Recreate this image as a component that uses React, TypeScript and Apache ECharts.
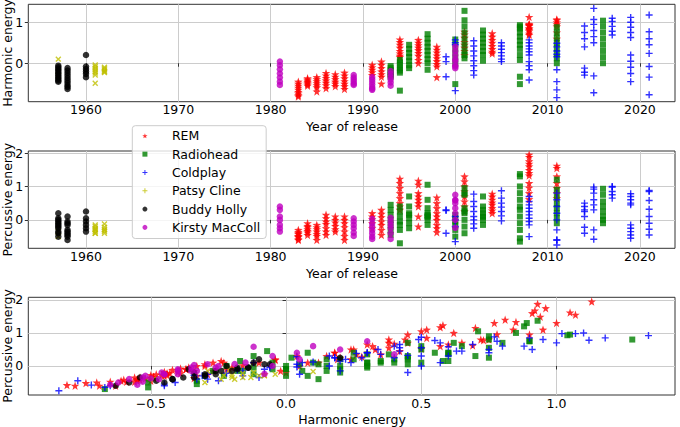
import React, { useEffect, useRef } from "react";
import * as echarts from "echarts";

// [year, harmonic, percussive]
const REM: number[][] = [
  [1983, -0.45, -0.3], [1983, -0.5, -0.36], [1983, -0.55, -0.4], [1983, -0.6, -0.42], [1983, -0.65, -0.48], [1983, -0.7, -0.5], [1983, -0.74, -0.52], [1983, -0.78, -0.6], [1983, -0.81, -0.58],
  [1984, -0.37, -0.1], [1984, -0.4, -0.18], [1984, -0.43, -0.22], [1984, -0.46, -0.28], [1984, -0.49, -0.33], [1984, -0.52, -0.38], [1984, -0.55, -0.45],
  [1985, -0.34, -0.15], [1985, -0.39, -0.22], [1985, -0.44, -0.28], [1985, -0.49, -0.35], [1985, -0.54, -0.42], [1985, -0.59, -0.48], [1985, -0.69, -0.6],
  [1986, -0.24, 0.15], [1986, -0.3, 0.05], [1986, -0.36, -0.05], [1986, -0.42, -0.12], [1986, -0.48, -0.25], [1986, -0.54, -0.35], [1986, -0.61, -0.45],
  [1987, -0.27, 0.1], [1987, -0.33, 0.0], [1987, -0.39, -0.08], [1987, -0.45, -0.18], [1987, -0.5, -0.28], [1987, -0.56, -0.35],
  [1988, -0.23, 0.1], [1988, -0.3, 0.0], [1988, -0.37, -0.1], [1988, -0.44, -0.22], [1988, -0.5, -0.35], [1988, -0.56, -0.48], [1988, -0.63, -0.6],
  [1991, -0.04, 0.2], [1991, -0.1, 0.1], [1991, -0.16, 0.02], [1991, -0.22, -0.1], [1991, -0.29, -0.25],
  [1992, 0.04, 0.3], [1992, -0.04, 0.18], [1992, -0.12, 0.08], [1992, -0.2, -0.05], [1992, -0.27, -0.15], [1992, -0.33, -0.3], [1992, -0.5, -0.45],
  [1994, 0.58, 1.23], [1994, 0.52, 1.1], [1994, 0.45, 0.95], [1994, 0.38, 0.8], [1994, 0.3, 0.65], [1994, 0.24, 0.5], [1994, 0.18, 0.4], [1994, 0.15, 0.3],
  [1996, 0.57, 1.17], [1996, 0.5, 1.05], [1996, 0.44, 0.8], [1996, 0.38, 0.7], [1996, 0.32, 0.6], [1996, 0.25, 0.5], [1996, 0.18, 0.4], [1996, 0.08, 0.1], [1996, 0.0, -0.2],
  [1998, 0.4, 0.67], [1998, 0.33, 0.5], [1998, 0.26, 0.35], [1998, 0.19, 0.2], [1998, 0.12, 0.1], [1998, 0.05, 0.0], [1998, -0.02, -0.15], [1998, -0.08, -0.25], [1998, -0.34, -0.37],
  [2001, 0.77, 1.3], [2001, 0.7, 1.15], [2001, 0.62, 1.0], [2001, 0.52, 0.85], [2001, 0.45, 0.7], [2001, 0.38, 0.55], [2001, 0.3, 0.4], [2001, 0.2, 0.25],
  [2004, 0.73, 0.78], [2004, 0.65, 0.7], [2004, 0.57, 0.6], [2004, 0.5, 0.52], [2004, 0.42, 0.45], [2004, 0.35, 0.35], [2004, 0.28, 0.28], [2004, 0.24, 0.2],
  [2008, 1.13, 1.95], [2008, 0.93, 1.88], [2008, 0.96, 1.75], [2008, 0.92, 1.68], [2008, 0.91, 1.6], [2008, 0.94, 1.49], [2008, 0.81, 1.4], [2008, 0.85, 1.33], [2008, 0.84, 1.1], [2008, 0.78, 0.96], [2008, 0.72, 0.8], [2008, 0.69, 0.62],
  [2011, 1.05, 1.62], [2011, 1.07, 1.55], [2011, 1.0, 1.3], [2011, 0.95, 1.1], [2011, 0.9, 0.95], [2011, 0.75, 0.8], [2011, 0.6, 0.65],
];

const RADIOHEAD: number[][] = [
  [1993, -0.07, 0.45], [1993, -0.12, 0.3], [1993, -0.17, 0.15], [1993, -0.22, 0.0], [1993, -0.27, -0.15], [1993, -0.3, -0.3], [1993, -0.33, -0.45],
  [1994, 0.08, 0.4], [1994, 0.02, 0.25], [1994, -0.05, 0.1], [1994, -0.12, -0.05], [1994, -0.18, -0.15], [1994, -0.23, -0.3], [1994, -0.67, -0.7],
  [1995, 0.45, 0.7], [1995, 0.35, 0.15], [1995, 0.25, 0.4], [1995, 0.15, 0.2], [1995, 0.05, 0.05], [1995, -0.05, -0.1], [1995, -0.12, -0.25],
  [1997, 0.71, 1.05], [1997, 0.6, 0.15], [1997, 0.5, 0.6], [1997, 0.4, 0.1], [1997, 0.3, 0.35], [1997, 0.2, 0.2], [1997, 0.1, 0.1], [1997, 0.0, 0.0], [1997, -0.16, -0.15],
  [2000, 0.58, 0.15], [2000, 0.45, 0.05], [2000, 0.3, -0.05], [2000, 0.15, -0.15], [2000, 0.0, -0.3], [2000, -0.51, -0.5],
  [2001, 1.28, 0.8], [2001, 1.05, 0.95], [2001, 0.9, 0.75], [2001, 0.75, 0.25], [2001, 0.6, 0.35], [2001, 0.45, 0.2], [2001, 0.3, 0.0], [2001, 0.2, -0.2], [2001, 0.12, -0.4],
  [2003, 0.8, 0.7], [2003, 0.7, 0.3], [2003, 0.6, 0.4], [2003, 0.5, 0.1], [2003, 0.4, 0.2], [2003, 0.3, 0.1], [2003, 0.2, 0.0], [2003, 0.06, -0.15],
  [2007, 0.93, 1.37], [2007, 0.89, 1.3], [2007, 0.85, 1.0], [2007, 0.75, 0.8], [2007, 0.65, 0.6], [2007, 0.55, 0.4], [2007, 0.45, 0.3], [2007, 0.35, 0.1], [2007, 0.2, -0.1], [2007, 0.08, -0.3], [2007, -0.33, -0.55], [2007, -0.51, -0.65],
  [2011, 0.88, 1.2], [2011, 0.75, 0.9], [2011, 0.62, 0.7], [2011, 0.5, 0.5], [2011, 0.38, 0.35], [2011, 0.25, 0.2], [2011, 0.12, 0.05], [2011, 0.0, -0.1],
  [2016, 1.04, 0.93], [2016, 0.9, 0.75], [2016, 0.75, 0.55], [2016, 0.6, 0.4], [2016, 0.45, 0.25], [2016, 0.3, 0.1], [2016, 0.15, 0.0], [2016, 0.0, -0.1],
];

const COLDPLAY: number[][] = [
  [1999, 0.16, 0.3], [1999, 0.04, 0.28], [1999, -0.33, -0.4],
  [2000, 0.57, 0.1], [2000, 0.5, 0.0], [2000, 0.45, -0.2], [2000, -0.67, -0.65],
  [2002, 0.55, 0.77], [2002, 0.42, 0.55], [2002, 0.3, 0.4], [2002, 0.18, 0.25], [2002, 0.06, 0.1], [2002, -0.06, 0.0], [2002, -0.18, -0.12], [2002, -0.29, -0.25],
  [2005, 0.5, 0.87], [2005, 0.42, 0.65], [2005, 0.34, 0.5], [2005, 0.26, 0.38], [2005, 0.18, 0.25], [2005, 0.1, 0.12], [2005, 0.04, -0.03],
  [2008, 0.57, 0.7], [2008, 0.5, 0.55], [2008, 0.42, 0.45], [2008, 0.35, 0.35], [2008, 0.28, 0.25], [2008, 0.2, 0.15], [2008, 0.04, 0.05], [2008, -0.06, -0.05], [2008, -0.16, -0.15], [2008, -0.41, -0.5],
  [2011, 0.49, 0.8], [2011, 0.4, 0.6], [2011, 0.3, 0.4], [2011, 0.22, 0.2], [2011, 0.16, 0.0], [2011, -0.16, -0.3], [2011, -0.45, -0.6], [2011, -0.65, -0.6], [2011, -0.84, -0.75],
  [2014, 0.91, 0.5], [2014, 0.75, 0.4], [2014, 0.6, 0.3], [2014, 0.4, 0.25], [2014, -0.12, 0.1], [2014, -0.22, -0.22], [2014, -0.29, -0.4],
  [2015, 1.34, 0.92], [2015, 1.07, 0.98], [2015, 0.95, 0.8], [2015, 0.8, 0.6], [2015, 0.65, 0.45], [2015, 0.5, 0.3], [2015, -0.31, -0.3], [2015, -0.72, -0.58],
  [2017, 1.1, 1.0], [2017, 1.02, 0.98], [2017, 0.9, 0.85], [2017, 0.78, 0.75], [2017, 0.69, 0.65],
  [2019, 1.12, 0.78], [2019, 1.0, 0.7], [2019, 0.88, 0.6], [2019, 0.75, 0.5], [2019, 0.63, 0.45], [2019, 0.2, -0.15], [2019, 0.05, -0.25], [2019, -0.1, -0.35], [2019, -0.25, -0.45], [2019, -0.45, -0.55],
  [2021, 1.18, 0.85], [2021, 0.77, 0.88], [2021, 0.6, 0.58], [2021, 0.45, 0.32], [2021, 0.24, 0.1], [2021, -0.08, -0.1], [2021, -0.34, -0.28], [2021, -0.77, -0.45],
];

const PATSY_CLINE: number[][] = [
  [1957, 0.1, -0.17], [1957, -0.3, -0.5], [1957, -0.2, -0.35],
  [1961, -0.04, -0.25], [1961, -0.08, -0.3], [1961, -0.12, -0.2], [1961, -0.16, -0.35], [1961, -0.2, -0.28], [1961, -0.24, -0.4], [1961, -0.29, -0.15], [1961, -0.49, -0.4],
  [1962, -0.1, -0.3], [1962, -0.13, -0.35], [1962, -0.16, -0.22], [1962, -0.19, -0.4], [1962, -0.21, -0.12], [1962, -0.23, -0.28],
];

const BUDDY_HOLLY: number[][] = [
  [1957, -0.06, 0.05], [1957, -0.1, 0.2], [1957, -0.14, -0.05], [1957, -0.18, -0.1], [1957, -0.22, 0.0], [1957, -0.26, -0.15], [1957, -0.3, -0.25], [1957, -0.34, -0.2], [1957, -0.38, -0.35], [1957, -0.42, -0.4], [1957, -0.45, -0.5],
  [1958, -0.12, 0.1], [1958, -0.18, -0.05], [1958, -0.24, -0.15], [1958, -0.3, -0.3], [1958, -0.36, -0.1], [1958, -0.42, -0.4], [1958, -0.48, -0.45], [1958, -0.54, -0.35], [1958, -0.58, -0.5], [1958, -0.63, -0.6],
  [1960, 0.2, 0.25], [1960, -0.08, 0.05], [1960, -0.14, -0.05], [1960, -0.2, -0.15], [1960, -0.26, -0.25], [1960, -0.34, -0.35],
];

const KIRSTY_MACCOLL: number[][] = [
  [1981, 0.04, 0.4], [1981, -0.05, 0.3], [1981, -0.15, 0.1], [1981, -0.25, 0.0], [1981, -0.35, -0.15], [1981, -0.45, -0.25], [1981, -0.53, -0.35],
  [1989, -0.29, 0.05], [1989, -0.35, -0.05], [1989, -0.4, -0.15], [1989, -0.45, -0.25], [1989, -0.5, -0.38], [1989, -0.53, -0.48],
  [1991, -0.34, 0.03], [1991, -0.4, -0.1], [1991, -0.46, -0.2], [1991, -0.52, -0.3], [1991, -0.58, -0.4], [1991, -0.62, -0.5], [1991, -0.65, -0.57],
  [1993, -0.19, 0.06], [1993, -0.26, -0.05], [1993, -0.33, -0.15], [1993, -0.4, -0.25], [1993, -0.47, -0.4], [1993, -0.55, -0.57],
  [2000, 0.4, 0.35], [2000, 0.3, 0.75], [2000, 0.2, 0.5], [2000, 0.1, 0.6], [2000, 0.05, 0.2], [2000, -0.05, 0.0], [2000, -0.12, 0.58], [2000, -0.08, -0.24],
];

const YEAR_TICKS = [1960, 1970, 1980, 1990, 2000, 2010, 2020];
const HARMONIC_TICKS_Y = [0, 1];
const PERCUSSIVE_TICKS = [0, 1, 2];
const HARMONIC_TICKS_X = [-0.5, 0.0, 0.5, 1.0];

const STAR = "path://M0,-10L2.35,-3.24L9.51,-3.09L3.8,1.24L5.88,8.09L0,4L-5.88,8.09L-3.8,1.24L-9.51,-3.09L-2.35,-3.24Z";
const PLUS = "path://M-1.2,-6H1.2V-1.2H6V1.2H1.2V6H-1.2V1.2H-6V-1.2H-1.2Z";
const SQUARE = "path://M-5,-5H5V5H-5Z";

const ARTISTS = [
  { name: "REM", data: REM, color: "#ff0000", symbol: STAR, size: 8.5, rotate: 0 },
  { name: "Radiohead", data: RADIOHEAD, color: "#008000", symbol: SQUARE, size: 6, rotate: 0 },
  { name: "Coldplay", data: COLDPLAY, color: "#0000ff", symbol: PLUS, size: 7, rotate: 0 },
  { name: "Patsy Cline", data: PATSY_CLINE, color: "#bfbf00", symbol: PLUS, size: 7, rotate: 45 },
  { name: "Buddy Holly", data: BUDDY_HOLLY, color: "#000000", symbol: "circle", size: 6.5, rotate: 0 },
  { name: "Kirsty MacColl", data: KIRSTY_MACCOLL, color: "#bf00bf", symbol: "circle", size: 6.5, rotate: 0 },
];

const FONT = "DejaVu Sans";
const FS = 12.5;

function fmtNum(v: number) {
  if (Math.abs(v) < 1e-9) return "0.0";
  return (v < 0 ? "\u2212" : "") + Math.abs(v).toFixed(1);
}

function makeAxis(gridIndex: number, min: number, max: number, ticks: number[], formatter: (v: number) => string, margin: number) {
  return {
    type: "value",
    gridIndex,
    min,
    max,
    axisLine: { show: false },
    axisTick: { show: true, length: 3.5, customValues: ticks, lineStyle: { color: "#333", width: 1 } },
    axisLabel: { customValues: ticks, formatter, color: "#000", fontFamily: FONT, fontSize: FS, margin },
    splitLine: { show: true, lineStyle: { color: "#cccccc", width: 1 } },
  };
}

export default function App() {
  const ref = useRef<HTMLDivElement>(null);
  useEffect(() => {
    if (!ref.current) return;
    const chart = echarts.init(ref.current, null, { renderer: "svg" });
    const series: any[] = [];
    const plots = [
      { x: 0, y: 0, pick: (d: number[]) => [d[0], d[1]] },
      { x: 1, y: 1, pick: (d: number[]) => [d[0], d[2]] },
      { x: 2, y: 2, pick: (d: number[]) => [d[1], d[2]] },
    ];
    plots.forEach((p) => {
      ARTISTS.forEach((a) => {
        series.push({
          type: "scatter",
          name: a.name,
          xAxisIndex: p.x,
          yAxisIndex: p.y,
          symbol: a.symbol,
          symbolSize: a.size,
          symbolRotate: a.rotate,
          itemStyle: { color: a.color, opacity: 0.8 },
          data: a.data.map(p.pick),
          silent: true,
        });
      });
    });
    const grids = [
      { left: 28.3, right: 5, top: 4.3, height: 97.4 },
      { left: 28.3, right: 5, top: 151, height: 97.3 },
      { left: 28.3, right: 5, top: 297.3, height: 97.7 },
    ].map((g) => ({ ...g, show: true, borderColor: "#333", borderWidth: 1, backgroundColor: "transparent" }));
    const yearFmt = (v: number) => String(Math.round(v));
    const intFmt = (v: number) => String(Math.round(v));
    const titleStyle = (text: string) => ({ text, font: `${FS}px '${FONT}'`, fill: "#000", textAlign: "center", textVerticalAlign: "middle" });
    const option: any = {
      animation: false,
      backgroundColor: "#ffffff",
      grid: grids,
      xAxis: [
        makeAxis(0, 1953.75, 2023.8, YEAR_TICKS, yearFmt, 1.5),
        makeAxis(1, 1953.75, 2023.8, YEAR_TICKS, yearFmt, 1.5),
        makeAxis(2, -0.953, 1.438, HARMONIC_TICKS_X, fmtNum, 1.5),
      ],
      yAxis: [
        makeAxis(0, -0.94, 1.44, HARMONIC_TICKS_Y, intFmt, 5),
        makeAxis(1, -0.85, 2.06, PERCUSSIVE_TICKS, intFmt, 5),
        makeAxis(2, -0.88, 2.08, PERCUSSIVE_TICKS, intFmt, 5),
      ],
      legend: {
        orient: "vertical",
        left: 132.3,
        top: 125.7,
        padding: [1, 6, 2, 10],
        itemGap: 0,
        itemWidth: 44,
        itemHeight: 5,
        symbolKeepAspect: true,
        backgroundColor: "rgba(255,255,255,0.8)",
        borderColor: "#cccccc",
        borderWidth: 1,
        borderRadius: 3,
        textStyle: { fontFamily: FONT, fontSize: FS, color: "#000", lineHeight: 18.3 },
        data: ARTISTS.map((a) => a.name),
        selectedMode: false,
      },
      graphic: [
        { type: "text", x: 7, y: 53, rotation: Math.PI / 2, style: titleStyle("Harmonic energy") },
        { type: "text", x: 7, y: 199.7, rotation: Math.PI / 2, style: titleStyle("Percussive energy") },
        { type: "text", x: 7, y: 346, rotation: Math.PI / 2, style: titleStyle("Percussive energy") },
        { type: "text", x: 352, y: 126.5, style: titleStyle("Year of release") },
        { type: "text", x: 352, y: 273, style: titleStyle("Year of release") },
        { type: "text", x: 352, y: 419.5, style: titleStyle("Harmonic energy") },
      ],
      series,
    };
    chart.setOption(option);
    return () => chart.dispose();
  }, []);
  return <div ref={ref} style={{ position: "fixed", left: 0, top: 0, width: 680, height: 427 }} />;
}
